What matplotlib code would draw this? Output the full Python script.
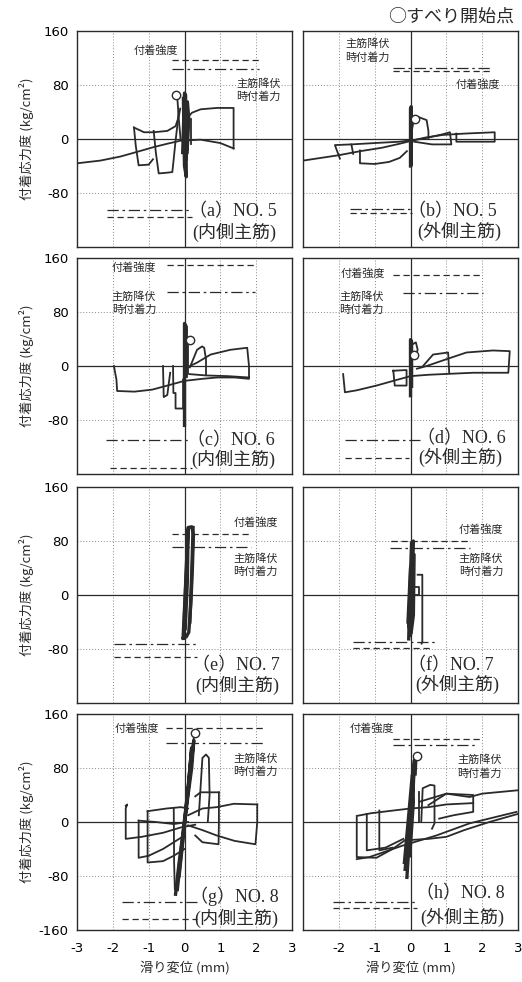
import matplotlib
matplotlib.use("Agg")
import matplotlib.pyplot as plt

plt.rcParams['font.family'] = ['Noto Sans CJK JP', 'DejaVu Sans']

INK = '#2a2a2a'

# ---------------- data (slip mm, bond stress kg/cm2) ----------------
panel_ids = ['a', 'b', 'c', 'd', 'e', 'f', 'g', 'h']
spec_no = ['5', '5', '6', '6', '7', '7', '8', '8']
bar_side = ['内側主筋', '外側主筋'] * 4

# 付着強度 lines: (stress, x_start, x_end)
bond_lines = {
    'a': [(117, -0.34, 2.07), (-115, -2.16, 0.21)],
    'b': [(101, -0.5, 2.3), (-109, -1.7, 0.03)],
    'c': [(150, -0.48, 1.98), (-151, -2.07, 0.21)],
    'd': [(135, -0.48, 2.03), (-137, -1.83, -0.05)],
    'e': [(90, -0.34, 1.8), (-92, -1.97, 0.35)],
    'f': [(80, -0.54, 1.65), (-79, -1.61, 0.62)],
    'g': [(139, -0.51, 2.2), (-143, -1.74, 0.35)],
    'h': [(123, -0.48, 2.03), (-128, -2.16, 0.17)],
}
# 主筋降伏時付着力 lines
yield_lines = {
    'a': [(104, -0.34, 2.07), (-105, -2.16, 0.21)],
    'b': [(105, -0.5, 2.3), (-103, -1.7, 0.03)],
    'c': [(109, -0.48, 1.98), (-110, -2.2, 0.17)],
    'd': [(108, -0.2, 2.03), (-110, -1.83, 0.26)],
    'e': [(71, -0.34, 1.85), (-72, -1.97, 0.35)],
    'f': [(70, -0.58, 1.65), (-70, -1.61, 0.76)],
    'g': [(117, -0.51, 2.25), (-118, -1.74, 0.35)],
    'h': [(114, -0.48, 1.89), (-118, -2.16, 0.17)],
}

# slip-onset points
slip_start = {
    'a': (-0.25, 65), 'b': (0.12, 29), 'c': (0.15, 39), 'd': (0.09, 17),
    'g': (0.28, 132), 'h': (0.19, 98),
}

# hysteresis traces: list of (x, y)
curves = {
    'a': [
        ([-3.0, -2.35, -1.79, -1.32, -0.86, -0.48, -0.11, 0.45, 1.0, 1.37],
         [-36, -32, -26, -19, -12, -7, -2.5, -1, -6, -14]),
        ([1.37, 1.37, 0.9, 0.45, 0.21, 0.09, 0.03],
         [-14, 46, 46, 44, 39, 32, 24]),
        ([-1.41, -1.36, -1.28, -1.0, -0.88], [17, -10, -39, -38, -30]),
        ([-1.41, -1.13, -0.86, -0.48, -0.25, -0.16, -0.12],
         [17, 10, 10, 12, 19, 33, 45]),
        ([-0.86, -0.8, -0.72, -0.5, -0.34, -0.3, -0.25, -0.2, -0.16],
         [12, -20, -51, -50, -49, -29, -3, 20, 41]),
        ([-0.2, -0.16, -0.11], [61, 30, 0]),
        ([0.17, 0.17], [29, -7]),
    ],
    'b': [
        ([-3.0, -2.5, -2.0, -1.4, -0.8, -0.3, 0.0, 0.4, 0.9, 1.5, 2.35, 2.35, 1.28, 1.28],
         [-32, -28, -24, -18, -13, -7, -3, 2, 6, 8, 10, -4, -4, 8]),
        ([-1.97, -2.11, -1.65, -1.6], [-29, -9, -8, -22]),
        ([-1.65, -1.0, -0.3, 0.3, 0.9, 1.1, 1.14, 0.6, 0.1],
         [-8, -6, -4, 0, 7, 10, -8, -8, -4]),
        ([-1.41, -1.41, -1.0, -0.6, -0.3, -0.1],
         [-17, -36, -37, -34, -28, -18]),
        ([0.03, 0.1, 0.2, 0.45, 0.5, 0.5], [10, 31, 33, 28, 12, 0]),
    ],
    'c': [
        ([-1.97, -1.9, -1.88, -1.4, -0.9, -0.48, 0.0, 0.5, 0.91, 1.4, 1.8, 1.8, 1.75,
          1.28, 0.73, 0.35, 0.07],
         [0, -20, -37, -38, -35, -29, -22, -19, -17, -17, -19, 0, 27, 24, 17, 5, -2]),
        ([-0.6, -0.58, -0.48, -0.4], [0, -46, -43, -10]),
        ([-0.32, -0.31, -0.25, -0.25, -0.04, -0.04], [0, -40, -40, -63, -63, -20]),
        ([0.15, 0.35, 0.49, 0.55, 0.6, 0.6], [-2, 24, 29, 27, 10, -12]),
        ([0.13, 0.6, 1.2, 1.8], [-12, -14, -15, -17]),
        ([0.1, 0.1], [35, -10]),
    ],
    'd': [
        ([-1.88, -1.83, -1.5, -0.95, -0.48, 0.0, 0.5, 0.91, 1.75, 2.73, 2.77, 2.3, 1.56,
          1.0, 0.45, 0.18],
         [-12, -39, -36, -29, -22, -15, -13, -12, -10, -10, 22, 23, 20, 10, 0, -4]),
        ([0.35, 0.63, 1.05, 1.08], [0, 17, 20, -10]),
        ([-0.48, -0.11, -0.11, -0.44, -0.48], [-7, -6, -29, -29, -7]),
        ([0.0, 0.05, 0.15, 0.2, 0.12, 0.03], [22, 32, 35, 24, 12, 10]),
    ],
    'e': [],
    'f': [
        ([0.2, 0.33, 0.33, 0.31], [30, 30, -70, -72]),
        ([0.11, 0.25, 0.25, 0.11, 0.11], [12, 12, 0, 0, 12]),
    ],
    'g': [
        ([-1.64, -1.6, -1.64, -1.64, -1.2, -0.6, -0.1, 0.3],
         [24, 26, 20, -25, -22, -16, -8, -4]),
        ([-1.28, -1.28, -1.0, -0.6, -0.3, 0.0], [2, -53, -50, -40, -30, -20]),
        ([-1.28, -0.8, -0.3, 0.1], [2, 0, -3, 0]),
        ([-1.03, -1.03, -0.6, -0.3, 0.0], [16, -60, -58, -50, -40]),
        ([-1.03, -0.5, -0.1, 0.1], [16, 20, 22, 20]),
        ([2.03, 2.03, 1.98, 1.4, 0.9, 0.5, 0.1], [26, 0, -33, -28, -20, -12, -5]),
        ([2.03, 1.38, 0.9, 0.5, 0.1], [26, 27, 22, 20, 10]),
        ([0.96, 0.96, 0.95, 0.5, 0.3], [44, 0, -33, -30, -20]),
        ([0.96, 0.45, 0.3], [44, 44, 38]),
        ([0.4, 0.5, 0.6, 0.68, 0.7, 0.65], [10, 95, 100, 95, 40, 0]),
        ([-0.3, -0.29, -0.27], [20, -60, -100]),
        ([0.26, 0.2], [125, 100]),
    ],
    'h': [
        ([-0.11, 0.5, 1.0, 1.5, 2.2, 3.0], [-27, -25, -22, -12, 0, 12]),
        ([-1.5, -1.15, -0.22, 0.72, 1.65, 2.96], [-55, -52, -35, -20, -2, 15]),
        ([0.25, 1.0, 1.65, 2.0, 3.0], [30, 42, 37, 42, 47]),
        ([-1.5, -1.5, -0.95, -0.5, -0.1], [7, -52, -53, -40, -25]),
        ([-1.5, -1.1, -0.48, 0.0, 0.5, 1.0, 1.75], [9, 13, 17, 20, 22, 26, 28]),
        ([-1.22, -1.22, -0.7, -0.2], [12, -42, -38, -25]),
        ([-0.87, -0.87, -0.5], [17, -42, -38]),
        ([0.5, 1.0, 1.75, 1.75, 1.2, 0.8], [25, 42, 40, 15, 10, 5]),
        ([0.3, 0.34, 0.55, 0.67, 0.67, 0.6], [0, 50, 55, 54, -2, -10]),
        ([0.25, 0.25], [45, 0]),
        ([0.17, 0.15], [93, 70]),
    ],
}

# dense cycles close to zero slip (drawn heavier)
core = {
    'a': [([-0.05, 0.0, 0.03, 0.05, 0.0, -0.03], [-20, 68, 65, -56, -40, 60]),
          ([0.05, 0.08, 0.12, 0.07], [-30, 55, 30, -20])],
    'b': [([0.0, 0.0, 0.02, 0.02], [-40, 45, 48, -38])],
    'c': [([0.0, 0.0, 0.03, 0.05, 0.05], [-88, 63, 60, 58, -15])],
    'd': [([0.0, 0.0, 0.03, 0.03], [-44, 39, 37, -30])],
    'e': [([-0.04, 0.0, 0.06, 0.1, 0.2, 0.25, 0.22, 0.18, 0.12, 0.05, -0.03],
           [-64, -20, 40, 100, 101, 90, 40, -10, -55, -62, -64]),
          ([-0.02, 0.04, 0.1, 0.08, 0.02], [-60, 30, 98, 20, -50]),
          ([0.15, 0.2, 0.24], [-40, 30, 100])],
    'f': [([-0.05, -0.02, 0.03, 0.08, 0.05, 0.0, -0.05], [-65, 0, 78, 80, 10, -60, -40]),
          ([-0.07, 0.0, 0.1, 0.08, 0.02], [-40, 40, 60, -30, -55])],
    'g': [([-0.25, -0.15, 0.0, 0.15, 0.26, 0.2, 0.05, -0.1, -0.2],
           [-107, -60, 0, 70, 121, 80, 20, -50, -100]),
          ([-0.2, -0.05, 0.1, 0.2, 0.12, -0.05, -0.15], [-90, -20, 50, 110, 60, -30, -80])],
    'h': [([-0.1, -0.05, 0.05, 0.1, 0.11, 0.05, -0.05, -0.15],
           [-82, -40, 20, 80, 92, 40, -20, -70]),
          ([-0.17, -0.05, 0.05, 0.08, -0.02], [-60, 10, 70, 30, -50])],
}

# label positions (x, y) in data units
bond_label = {'a': (-0.81, 131), 'b': (1.89, 80), 'c': (-1.41, 146), 'd': (-1.32, 137),
              'e': (1.98, 107), 'f': (1.97, 97), 'g': (-1.32, 138), 'h': (-1.09, 139)}
yield_label = {'a': (2.07, 72), 'b': (-1.21, 131), 'c': (-1.41, 93), 'd': (-1.37, 93),
               'e': (1.98, 44), 'f': (1.97, 44), 'g': (1.98, 84), 'h': (1.93, 82)}
case_label = {'a': (0.12, -107), 'b': (-0.07, -107), 'c': (0.07, -110), 'd': (0.17, -107),
              'e': (0.21, -104), 'f': (-0.07, -104), 'g': (0.16, -110), 'h': (0.16, -106)}
side_label = {'a': (0.22, -139), 'b': (0.2, -137), 'c': (0.2, -138), 'd': (0.22, -135),
              'e': (0.3, -134), 'f': (0.12, -132), 'g': (0.26, -143), 'h': (0.26, -142)}

# ---------------- figure ----------------
W, H = 522, 982
fig = plt.figure(figsize=(W / 100, H / 100), dpi=100)

col_left = [77, 303]
row_top = [31, 258, 487, 714]
pw, ph = 215, 216

latin_font = ['Liberation Serif', 'Noto Sans CJK JP']
tick_font = ['Liberation Sans Narrow', 'DejaVu Sans']

for i, pid in enumerate(panel_ids):
    row, col = divmod(i, 2)
    l = col_left[col] / W
    b = 1 - (row_top[row] + ph) / H
    ax = fig.add_axes([l, b, pw / W, ph / H])
    ax.set_xlim(-3, 3)
    ax.set_ylim(-160, 160)

    for gx in [-2, -1, 1, 2]:
        ax.axvline(gx, color='#8a8a8a', lw=0.7, ls=(0, (1, 2)), zorder=0)
    for gy in [-80, 80]:
        ax.axhline(gy, color='#8a8a8a', lw=0.7, ls=(0, (1, 2)), zorder=0)
    ax.axvline(0, color=INK, lw=0.9, zorder=1)
    ax.axhline(0, color=INK, lw=0.9, zorder=1)

    for y, x0, x1 in bond_lines[pid]:
        ax.plot([x0, x1], [y, y], color=INK, lw=0.9, ls=(0, (5, 3)))
    for y, x0, x1 in yield_lines[pid]:
        ax.plot([x0, x1], [y, y], color=INK, lw=0.9, ls=(0, (9, 3, 2, 3)))

    for xs, ys in curves[pid]:
        ax.plot(xs, ys, color=INK, lw=1.3, solid_joinstyle='round')
    for xs, ys in core[pid]:
        ax.plot(xs, ys, color=INK, lw=2.4, solid_joinstyle='round')

    if pid in slip_start:
        sx, sy = slip_start[pid]
        ax.plot(sx, sy, 'o', ms=6, mfc='white', mec=INK, mew=1.0, zorder=5)

    bx, by = bond_label[pid]
    ax.text(bx, by, '付着強度', fontsize=8, ha='center', va='center', color=INK)
    yx, yy = yield_label[pid]
    ax.text(yx, yy, '主筋降伏\n時付着力', fontsize=8, ha='center', va='center',
            color=INK, linespacing=1.3)
    cx, cy = case_label[pid]
    ax.text(cx, cy, f'（{pid}）NO. {spec_no[i]}', fontsize=13, ha='left', va='center',
            color=INK, family=latin_font)
    lx, ly = side_label[pid]
    ax.text(lx, ly, f'({bar_side[i]})', fontsize=13, ha='left', va='center',
            color=INK, family=latin_font)

    ax.tick_params(length=0, labelsize=9.5, pad=6)
    ax.set_yticks([-160, -80, 0, 80, 160])
    ax.set_xticks([-3, -2, -1, 0, 1, 2, 3])
    if col == 0:
        ylabels = ['-160' if row == 3 else '', '-80', '0', '80', '160']
        ax.set_yticklabels(ylabels, family=tick_font)
        ax.set_ylabel('付着応力度 (kg/cm²)', fontsize=9.5, color=INK)
        ax.yaxis.set_label_coords(-0.2, 0.5)
    else:
        ax.set_yticklabels([])
    if row == 3:
        xlabels = ['-3', '-2', '-1', '0', '1', '2', '3']
        if col == 1:
            xlabels[0] = ''
        ax.set_xticklabels(xlabels, family=tick_font)
        ax.tick_params(axis='x', pad=9)
        ax.set_xlabel('滑り変位 (mm)', fontsize=9.5, color=INK)
        ax.xaxis.set_label_coords(0.5, -0.14)
    else:
        ax.set_xticklabels([])
    for s in ax.spines.values():
        s.set_color(INK)
        s.set_linewidth(1.0)

fig.text(0.985, 1 - 17 / H, '○すべり開始点', fontsize=13, ha='right', va='center', color=INK)

fig.savefig('out.png', dpi=100, facecolor='white')
